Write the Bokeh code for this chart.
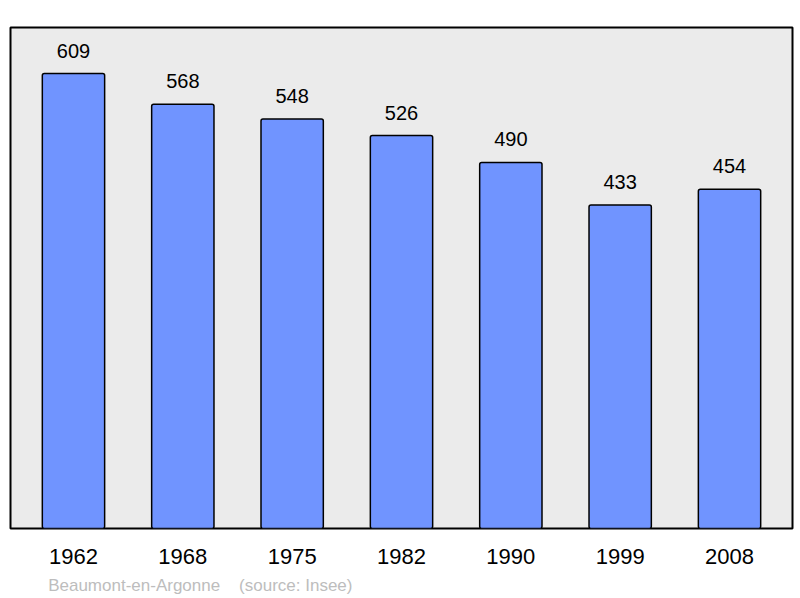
from bokeh.plotting import figure
from bokeh.models import ColumnDataSource, FixedTicker, Range1d, LinearAxis
from bokeh.core.properties import value
from bokeh.embed import file_html
from bokeh.resources import INLINE

years = ["1962", "1968", "1975", "1982", "1990", "1999", "2008"]
population = [609, 568, 548, 526, 490, 433, 454]
caption = "Beaumont-en-Argonne\u00a0\u00a0\u00a0\u00a0(source: Insee)"
caption_x = 1.16  # horizontal anchor (category units) of the centred caption

xs = list(range(len(years)))
src = ColumnDataSource(dict(x=xs, top=population, label=[str(v) for v in population]))

FONT = "Liberation Sans"

p = figure(width=800, height=598, output_backend="svg", toolbar_location=None,
           x_range=Range1d(-0.576, 6.576), y_range=Range1d(0, 670.6),
           min_border_left=10, min_border_right=8, min_border_top=27, min_border_bottom=70)

p.background_fill_color = "#ebebeb"
p.border_fill_color = "white"
p.outline_line_color = "black"
p.outline_line_width = 2
p.xgrid.visible = False
p.ygrid.visible = False
p.yaxis.visible = False

p.vbar(x="x", top="top", bottom=0, width=0.57, source=src,
       fill_color="#7094ff", line_color="black", line_width=1.5, border_radius=2)

p.text(x="x", y="top", text="label", source=src, y_offset=-23,
       text_align="center", text_baseline="alphabetic",
       text_font=value(FONT), text_font_size="20px", text_color="black")


def style_axis(ax, standoff, size, color):
    ax.axis_line_color = None
    ax.major_tick_line_color = None
    ax.minor_tick_line_color = None
    ax.major_tick_out = 0
    ax.major_tick_in = 0
    ax.minor_tick_out = 0
    ax.minor_tick_in = 0
    ax.major_label_standoff = standoff
    ax.major_label_text_font = FONT
    ax.major_label_text_font_size = size
    ax.major_label_text_color = color


ax = p.xaxis[0]
ax.ticker = FixedTicker(ticks=xs)
ax.major_label_overrides = {i: y for i, y in enumerate(years)}
style_axis(ax, 20, "22px", "black")

cap_ax = LinearAxis(ticker=FixedTicker(ticks=[caption_x]),
                    major_label_overrides={caption_x: caption})
style_axis(cap_ax, 9, "17px", "#bdbdbd")
p.add_layout(cap_ax, "below")

open("out.html", "w").write(file_html(p, INLINE))
